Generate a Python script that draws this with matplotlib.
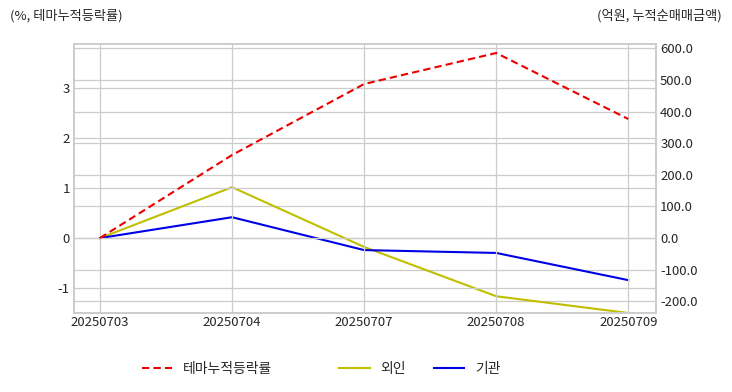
import matplotlib
matplotlib.use("Agg")
import matplotlib.pyplot as plt
from matplotlib.ticker import FormatStrFormatter

dates = ["20250703", "20250704", "20250707", "20250708", "20250709"]
theme_rate = [0.0, 1.66, 3.08, 3.70, 2.38]
foreign = [0.0, 161.0, -28.0, -184.0, -237.0]
institution = [0.0, 66.0, -38.0, -47.0, -133.0]

plt.rcParams['font.family'] = ['Noto Sans CJK KR', 'DejaVu Sans']
plt.rcParams['axes.unicode_minus'] = False

fig = plt.figure(figsize=(7.32, 3.92), dpi=100)
ax1 = fig.add_axes([74/732, 1-313/392, (656-74)/732, (313-44)/392])
ax2 = ax1.twinx()

x = list(range(len(dates)))
l1, = ax1.plot(x, theme_rate, color=(0.92, 0, 0), linestyle=(0, (3.5, 2)), lw=1.5, label="테마누적등락률")
l2, = ax2.plot(x, foreign, color=(0.75, 0.75, 0), lw=1.5, label="외인")
l3, = ax2.plot(x, institution, color=(0, 0, 0.9), lw=1.5, label="기관")

ax1.set_xlim(-0.197, 4.21)
ax1.set_ylim(-1.5, 3.88)
ax2.set_ylim(-237, 614)
ax1.set_xticks(x)
ax1.set_xticklabels(dates)
ax1.set_yticks([-1, 0, 1, 2, 3])
ax2.set_yticks([-200, -100, 0, 100, 200, 300, 400, 500, 600])
ax2.yaxis.set_major_formatter(FormatStrFormatter('%.1f'))

grid_c = '#cccccc'
for ax in (ax1, ax2):
    ax.grid(True, color=grid_c, lw=0.9)
    ax.set_axisbelow(True)
    for s in ax.spines.values():
        s.set_color(grid_c)
        s.set_linewidth(1.2)
    ax.tick_params(length=0, labelsize=9.5, colors='#262626', pad=3)
ax2.grid(True, axis='y', color=grid_c, lw=0.9)
ax1.grid(True, axis='x', color=grid_c, lw=0.9)
ax1.set_zorder(ax2.get_zorder() + 1)
ax1.patch.set_visible(False)
ax1.tick_params(axis='x', pad=2)

fig.text(10/732, 1-16/392, "(%, 테마누적등락률)", fontsize=9.5, color='#262626', va='center', ha='left')
fig.text(722/732, 1-16/392, "(억원, 누적순매매금액)", fontsize=9.5, color='#262626', va='center', ha='right')

fig.legend(handles=[l1], loc='center', bbox_to_anchor=(207/732, 1-369/392), frameon=False,
           fontsize=10, handlelength=2.2, handletextpad=0.8, labelcolor='#262626')
fig.legend(handles=[l2, l3], loc='center', bbox_to_anchor=(420/732, 1-369/392), frameon=False, ncol=2,
           fontsize=10, handlelength=2.2, handletextpad=0.8, columnspacing=2.0, labelcolor='#262626')

fig.savefig("out.png", dpi=100)
